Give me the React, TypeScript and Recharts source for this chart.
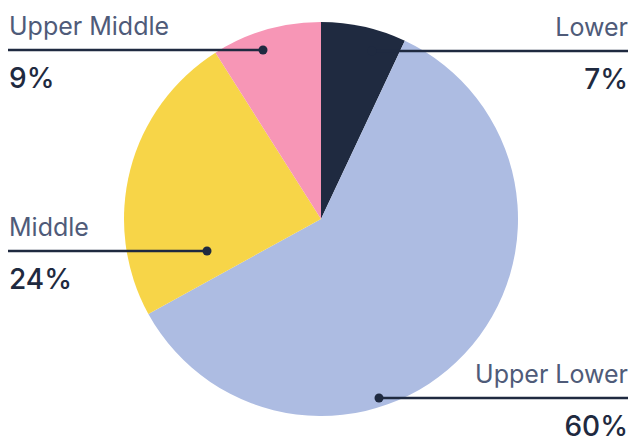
import React from "react";
import { PieChart, Pie, Cell } from "recharts";

const categories = ["Lower", "Upper Lower", "Middle", "Upper Middle"];
const shares = [7, 60, 24, 9];
const colors = ["#1f2a40", "#adbce2", "#f7d548", "#f796b6"];

// label layout (chart px): side, y of leader line, dot position
const labelLayout = [
  { side: "right", lineY: 51, dotX: 372 },
  { side: "right", lineY: 398, dotX: 379 },
  { side: "left", lineY: 251, dotX: 207 },
  { side: "left", lineY: 50, dotX: 263 },
];

const data = categories.map((name, i) => ({ name, value: shares[i] }));

const W = 632;
const H = 438;

const renderLabel = (props: any) => {
  const { index } = props;
  const lay = labelLayout[index];
  const right = lay.side === "right";
  const x0 = right ? lay.dotX : 8;
  const x1 = right ? 628 : lay.dotX;
  const tx = right ? 628 : 9;
  const anchor = right ? "end" : "start";
  return (
    <g>
      <line x1={x0} y1={lay.lineY} x2={x1} y2={lay.lineY} stroke="#1f2a40" strokeWidth={2.5} />
      <circle cx={lay.dotX} cy={lay.lineY} r={4.5} fill="#1f2a40" />
      <text x={tx} y={lay.lineY - 15} textAnchor={anchor} fill="#4f5b79" fontFamily="Inter" fontSize={25}>
        {categories[index]}
      </text>
      <text x={tx} y={lay.lineY + 38} textAnchor={anchor} fill="#1f2a40" fontFamily="Inter" fontWeight={500} fontSize={28}>
        {shares[index]}%
      </text>
    </g>
  );
};

export default function App() {
  return (
    <div style={{ position: "absolute", left: 0, top: 0, width: W, height: H, background: "#fff" }}>
      <PieChart width={W} height={H} margin={{ top: 0, right: 0, bottom: 0, left: 0 }}>
        <Pie
          data={data}
          dataKey="value"
          nameKey="name"
          cx={321}
          cy={219}
          outerRadius={197}
          startAngle={90}
          endAngle={-270}
          stroke="none"
          label={renderLabel}
          labelLine={false}
          isAnimationActive={false}
        >
          {data.map((d, i) => (
            <Cell key={d.name} fill={colors[i]} />
          ))}
        </Pie>
      </PieChart>
    </div>
  );
}
